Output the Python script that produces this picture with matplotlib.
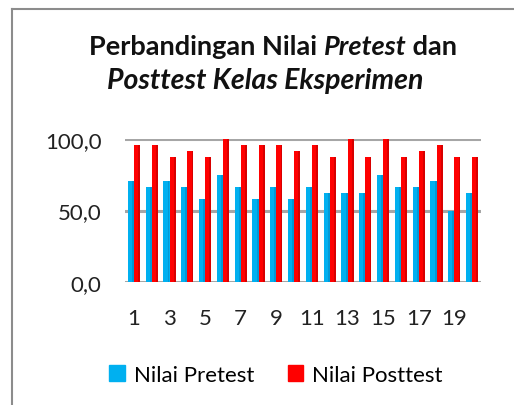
import matplotlib
matplotlib.use("Agg")
import matplotlib.pyplot as plt
import numpy as np
from matplotlib.patches import Rectangle
from matplotlib.lines import Line2D

students = list(range(1, 21))
pretest = [70.8, 66.7, 70.8, 66.7, 58.3, 75.0, 66.7, 58.3, 66.7, 58.3,
           66.7, 62.5, 62.5, 62.5, 75.0, 66.7, 66.7, 70.8, 50.0, 62.5]
posttest = [95.8, 95.8, 87.5, 91.7, 87.5, 100.0, 95.8, 95.8, 95.8, 91.7,
            95.8, 87.5, 100.0, 87.5, 100.0, 87.5, 91.7, 95.8, 87.5, 87.5]
series_names = ["Nilai Pretest", "Nilai Posttest"]
y_ticks = [0, 50, 100]
y_labels = ["0,0", "50,0", "100,0"]
x_ticks = [1, 3, 5, 7, 9, 11, 13, 15, 17, 19]

BLUE = "#00B0F0"
RED = "#FF0000"
FONT = "Lato"

W, H = 514, 406
fig = plt.figure(figsize=(W / 100, H / 100), dpi=100)
fig.patch.set_facecolor("white")

# chart border (left/top visible)
fig.add_artist(Line2D([12 / W, 12 / W], [0, 1 - 10 / H], transform=fig.transFigure,
                      color="#8c8c8c", lw=1.5))
fig.add_artist(Line2D([12 / W, 1], [1 - 10 / H, 1 - 10 / H], transform=fig.transFigure,
                      color="#8c8c8c", lw=1.5))

ax = fig.add_axes([125 / W, 1 - 283 / H, 356 / W, 143 / H])
x = np.array(students)
bw = 0.34
for yv in y_ticks:
    ax.axhline(yv, color="#a6a6a6", lw=2.2, zorder=0)
ax.bar(x - bw / 2, pretest, width=bw, color=BLUE, zorder=2, label=series_names[0])
ax.bar(x + bw / 2, posttest, width=bw, color=RED, zorder=2, label=series_names[1])
# subtle darker edge for 3D look
ax.bar(x - bw / 2 + bw * 0.35, pretest, width=bw * 0.3, color="#0099d6", zorder=2.1)
ax.bar(x + bw / 2 + bw * 0.35, posttest, width=bw * 0.3, color="#d80000", zorder=2.1)

ax.set_xlim(0.5, 20.5)
ax.set_ylim(0, 100)
ax.set_yticks(y_ticks)
ax.set_yticklabels(y_labels, fontsize=16, family=FONT, color="#222222")
ax.set_xticks(x_ticks)
ax.set_xticklabels([str(v) for v in x_ticks], fontsize=16, family=FONT, color="#222222")
ax.tick_params(axis="both", length=0)
ax.tick_params(axis="y", pad=17)
ax.tick_params(axis="x", pad=19)
for s in ax.spines.values():
    s.set_visible(False)
ax.set_facecolor("none")

# Title with mixed styles
def draw_line(parts, cx, cy, size):
    r = fig.canvas.get_renderer()
    texts = []
    widths = []
    for txt, style in parts:
        t = fig.text(0, 0, txt, fontsize=size, family=FONT, weight="bold",
                     style=style, va="baseline", ha="left", color="#111111")
        bb = t.get_window_extent(renderer=r)
        texts.append(t)
        widths.append(bb.width)
    total = sum(widths)
    x0 = cx - total / 2
    for t, w in zip(texts, widths):
        t.set_position((x0 / W, 1 - cy / H))
        x0 += w

draw_line([("Perbandingan Nilai ", "normal"), ("Pretest", "italic"), (" dan", "normal")], 273, 55, 19.5)
draw_line([("Posttest Kelas Eksperimen", "italic")], 265, 89, 20.5)

leg = fig.legend(handles=[Rectangle((0, 0), 1, 1, color=BLUE), Rectangle((0, 0), 1, 1, color=RED)],
                 labels=series_names, loc="center", bbox_to_anchor=(276 / W, 1 - 376 / H),
                 ncol=2, frameon=False, prop={"family": FONT, "size": 16},
                 handlelength=0.7, handleheight=0.7, handletextpad=0.4, columnspacing=1.5)

fig.savefig("out.png", dpi=100, facecolor="white")
